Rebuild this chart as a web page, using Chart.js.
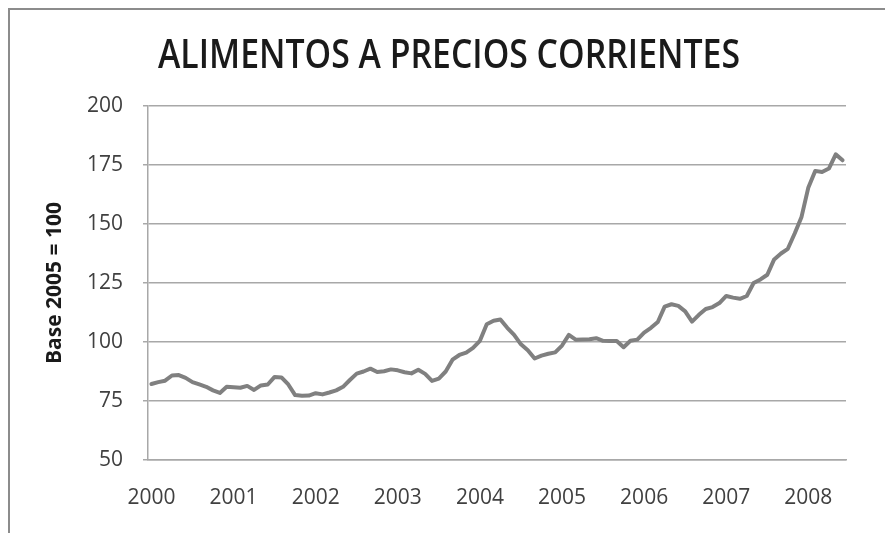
<!DOCTYPE html>
<html>
<head>
<meta charset="utf-8">
<script src="https://cdn.jsdelivr.net/npm/chart.js@4.4.1/dist/chart.umd.min.js"></script>
<style>
    html, body { margin: 0; padding: 0; background: #fff; }
    #wrap { position: relative; width: 885px; height: 533px; }
    #frame {
        position: absolute; left: 8px; top: 8px; right: -10px; bottom: -10px;
        border-top: 2px solid #8c8c8c; border-left: 2px solid #8c8c8c;
    }
    canvas { position: absolute; left: 0; top: 0; }
</style>
</head>
<body>
<div id="wrap">
    <div id="frame"></div>
    <canvas id="chart" width="885" height="533"></canvas>
</div>
<script>
// indice mensual, base 2005 = 100
const years = ["2000", "2001", "2002", "2003", "2004", "2005", "2006", "2007", "2008"];
const v2000 = [82.2, 83, 83.6, 85.8, 86, 84.8, 83, 82, 81, 79.5, 78.4, 81];
const v2001 = [80.8, 80.6, 81.4, 79.7, 81.6, 82, 85.2, 85, 82, 77.5, 77.2, 77.3];
const v2002 = [78.3, 77.8, 78.6, 79.5, 81, 83.9, 86.6, 87.5, 88.7, 87.3, 87.6, 88.4];
const v2003 = [88, 87.2, 86.7, 88.2, 86.5, 83.5, 84.5, 87.5, 92.5, 94.5, 95.5, 97.5];
const v2004 = [100.5, 107.5, 109, 109.5, 106, 103, 99, 96.5, 93, 94.2, 95, 95.6];
const v2005 = [98.5, 103, 101, 101.1, 101.2, 101.6, 100.5, 100.4, 100.4, 97.8, 100.5, 101];
const v2006 = [104, 106, 108.5, 115, 116, 115.3, 113, 108.6, 111.5, 114, 114.8, 116.5];
const v2007 = [119.5, 118.8, 118.3, 119.5, 125, 126.5, 128.5, 135, 137.5, 139.5, 146, 153];
const v2008 = [165.5, 172.5, 172, 173.5, 179.5, 177];
const yTicks = [50, 75, 100, 125, 150, 175, 200];
const chartTitle = "ALIMENTOS A PRECIOS CORRIENTES";

const values = [].concat(v2000, v2001, v2002, v2003, v2004, v2005, v2006, v2007, v2008);
const labels = [];
years.forEach(function (y) {
    for (let m = 1; m <= 12; m++) {
        if (labels.length < values.length) labels.push(y + "-" + m);
    }
});

const gridColor = "#a8a8a8";
const textColor = "#404040";

// titulo estrecho tipo Calibri: se comprime con maxWidth
const titlePlugin = {
    id: "narrowTitle",
    afterDraw: function (chart) {
        const ctx = chart.ctx;
        ctx.save();
        ctx.font = "600 40px 'Open Sans', sans-serif";
        ctx.fillStyle = "#1a1a1a";
        ctx.textAlign = "center";
        ctx.textBaseline = "middle";
        ctx.fillText(chartTitle, 449, 57, 582);
        ctx.restore();
    },
};

new Chart(document.getElementById("chart"), {
    type: "line",
    data: {
        labels: labels,
        datasets: [{
            data: values,
            borderColor: "#808080",
            borderWidth: 4,
            borderJoinStyle: "round",
            borderCapStyle: "round",
            pointRadius: 0,
            tension: 0,
        }],
    },
    plugins: [titlePlugin],
    options: {
        responsive: false,
        animation: false,
        layout: { padding: { left: 42, right: 39, top: 106, bottom: 0 } },
        plugins: {
            legend: { display: false },
            tooltip: { enabled: false },
            title: { display: false },
        },
        scales: {
            x: {
                type: "category",
                offset: true,
                grid: { display: false },
                border: { display: true, color: gridColor, width: 1.5 },
                ticks: {
                    autoSkip: false,
                    maxRotation: 0,
                    padding: 17,
                    color: textColor,
                    font: { family: "'Open Sans', sans-serif", size: 21 },
                    callback: function (val, i) {
                        return i % 12 === 0 ? years[i / 12] : "";
                    },
                },
                afterFit: function (s) { s.height = 73; },
            },
            y: {
                min: 50,
                max: 200,
                afterBuildTicks: function (s) {
                    s.ticks = yTicks.map(function (v) { return { value: v }; });
                },
                grid: { color: gridColor, lineWidth: 1.5, tickLength: 5 },
                border: { display: true, color: gridColor, width: 1.5 },
                ticks: {
                    padding: 20,
                    color: textColor,
                    font: { family: "'Open Sans', sans-serif", size: 21 },
                },
                title: {
                    display: true,
                    text: "Base 2005 = 100",
                    color: "#1a1a1a",
                    font: { family: "'Open Sans', sans-serif", size: 21, weight: "bold" },
                    padding: 0,
                },
                afterFit: function (s) { s.width = 106; },
            },
        },
    },
});
</script>
</body>
</html>
